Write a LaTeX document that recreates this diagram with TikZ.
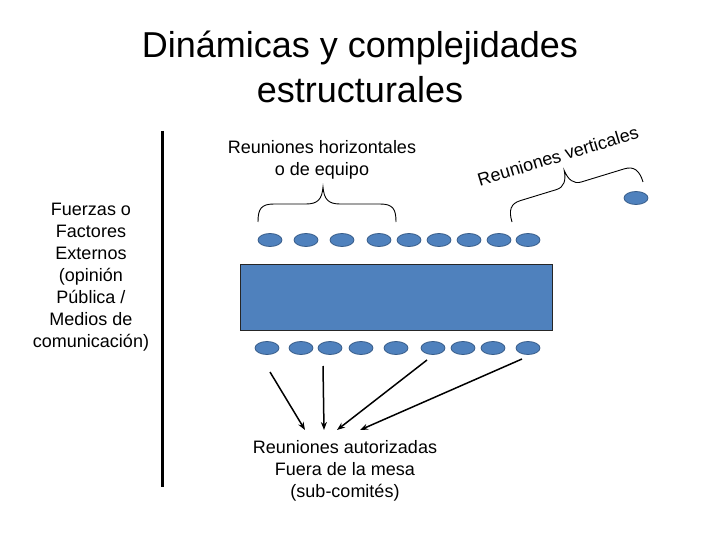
\documentclass[tikz,border=0pt]{standalone}
\usepackage{fontspec}
\setmainfont{Liberation Sans}
\usetikzlibrary{arrows.meta,shapes.geometric}
\definecolor{seatblue}{HTML}{4F81BD}
\definecolor{seatedge}{HTML}{385D8A}

\begin{document}
\begin{tikzpicture}[
        x=1pt, y=-1pt,
        font=\fontsize{18}{22}\selectfont,
        seat/.style={
            ellipse,
            draw=seatedge,
            fill=seatblue,
            line width=0.8pt,
            minimum width=24pt,
            minimum height=13pt,
            inner sep=0pt
        },
        table/.style={
            draw=black!85,
            fill=seatblue,
            line width=1pt,
            minimum width=312pt,
            minimum height=66pt,
            inner sep=0pt
        },
        label/.style={align=center, inner sep=0pt},
        curly/.style={line width=0.9pt},
        push/.style={-{Stealth[length=8pt,width=6pt]}, line width=1.5pt}
    ]
        \useasboundingbox (0,0) rectangle (720,540);

        % Title
        \node[label, font=\fontsize{36}{45}\selectfont] (title) at (360,67)
            {Dinámicas y complejidades\\estructurales};

        % Separator and external forces
        \coordinate (sepTop) at (162.5,131);
        \coordinate (sepBot) at (162.5,487);
        \draw[line width=3pt] (sepTop) -- (sepBot);

        \node[label] (forces) at (91,277)
            {Fuerzas o\\Factores\\Externos\\(opinión\\Pública /\\Medios de\\comunicación)};

        % Top row of participants
        \node[seat] (t1) at (270,240) {};
        \node[seat] (t2) at (306,240) {};
        \node[seat] (t3) at (342,240) {};
        \node[seat] (t4) at (379,240) {};
        \node[seat] (t5) at (409,240) {};
        \node[seat] (t6) at (439,240) {};
        \node[seat] (t7) at (469,240) {};
        \node[seat] (t8) at (499,240) {};
        \node[seat] (t9) at (528,240) {};
        \node[seat] (outer) at (636,198) {};

        % Negotiation table
        \node[table] (mesa) at (396,297) {};

        % Bottom row of participants
        \node[seat] (b1) at (267,348) {};
        \node[seat] (b2) at (301,348) {};
        \node[seat] (b3) at (330,348) {};
        \node[seat] (b4) at (361,348) {};
        \node[seat] (b5) at (396,348) {};
        \node[seat] (b6) at (433,348) {};
        \node[seat] (b7) at (463,348) {};
        \node[seat] (b8) at (493,348) {};
        \node[seat] (b9) at (528,348) {};

        % Horizontal meetings
        \node[label] (horiz) at (322,160)
            {Reuniones horizontales\\o de equipo};
        \draw[curly] (258,222) .. controls (258,209) and (261,204) .. (274,204)
            -- (306,204) .. controls (318,204) and (322,199) .. (323,187)
            .. controls (324,199) and (328,204) .. (340,204)
            -- (380,204) .. controls (393,204) and (396,209) .. (396,222);

        % Vertical meetings
        \node[label, rotate=17] (vert) at (558,156)
            {Reuniones verticales};
        \begin{scope}[shift={(512,222)}, rotate=17]
            \draw[curly] (0,0) .. controls (0,-12) and (4,-18) .. (14,-18)
                -- (52,-18) .. controls (60,-18) and (64,-24) .. (65,-34)
                .. controls (66,-24) and (70,-18) .. (78,-18)
                -- (123,-18) .. controls (133,-18) and (137,-12) .. (137,0);
        \end{scope}

        % Authorized meetings off the table
        \node[label] (subcom) at (345,471)
            {Reuniones autorizadas\\Fuera de la mesa\\(sub-comités)};

        \coordinate (s1) at (270,372);
        \coordinate (s2) at (323,366);
        \coordinate (s3) at (427,360);
        \coordinate (s4) at (522,359);
        \coordinate (e1) at (305,430);
        \coordinate (e2) at (324,430);
        \coordinate (e3) at (337,430);
        \coordinate (e4) at (360,430);

        \draw[push] (s1) -- (e1);
        \draw[push] (s2) -- (e2);
        \draw[push] (s3) -- (e3);
        \draw[push] (s4) -- (e4);
    \end{tikzpicture}
\end{document}
